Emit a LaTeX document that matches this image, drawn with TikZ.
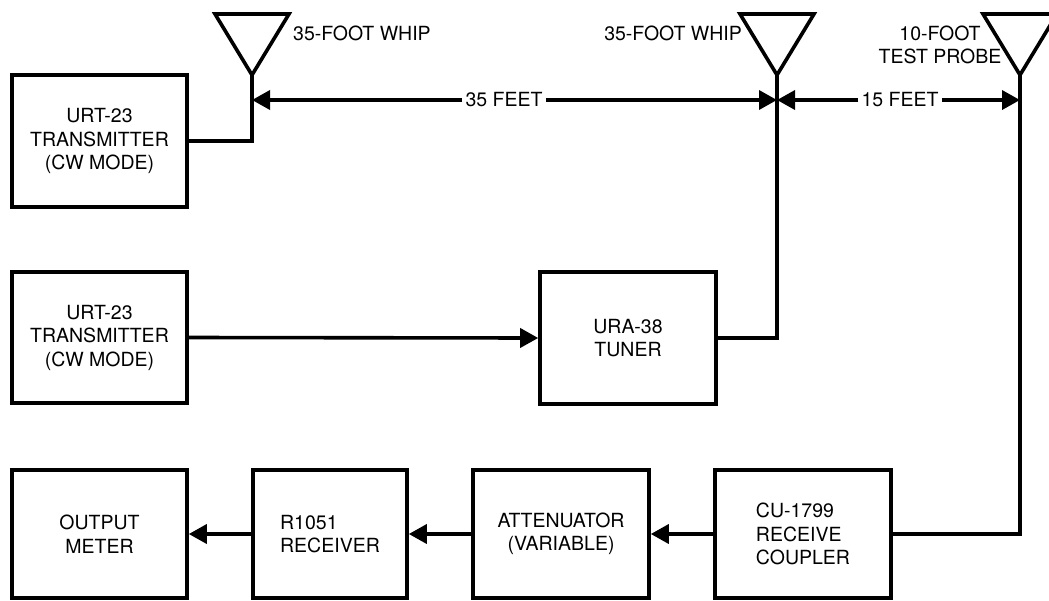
\documentclass[tikz,border=0pt]{standalone}
\usepackage{fontspec}
\setmainfont{TeX Gyre Heros}
\usetikzlibrary{arrows.meta}
\begin{document}
\begin{tikzpicture}[x=1pt,y=-1pt,
  every node/.style={font=\fontsize{19.5}{23.5}\selectfont},
  wire/.style={line width=3.6pt, line join=miter},
  arr/.style={wire,-{Triangle[length=18pt,width=19pt]}},
  blk/.style={draw, line width=3.6pt, minimum width=175pt, align=center, inner sep=0pt},
  lbl/.style={inner sep=2pt},
  dim/.style={fill=white, inner sep=3pt}
]
\clip (0,0) rectangle (1049,600);
\fill[white] (0,0) rectangle (1049,600);

% blocks
\node[blk, minimum height=132pt] (tx1) at (99.5,141) {URT-23\\TRANSMITTER\\(CW MODE)};
\node[blk, minimum height=131pt] (tx2) at (99.5,337.5) {URT-23\\TRANSMITTER\\(CW MODE)};
\node[blk, minimum width=176pt, minimum height=132pt] (ura) at (628,338) {URA-38\\TUNER};
\node[blk, minimum height=128pt] (out) at (99.5,534) {OUTPUT\\METER};
\node[blk, minimum width=154pt, minimum height=128pt, align=left] (rcv) at (330,534) {R1051\\RECEIVER};
\node[blk, minimum width=176pt, minimum height=128pt] (att) at (561,534) {ATTENUATOR\\(VARIABLE)};
\node[blk, minimum width=176pt, minimum height=128pt, align=left] (cu) at (803,534) {CU-1799\\RECEIVE\\COUPLER};

% antennas
\coordinate (a1) at (252,75);
\coordinate (a1l) at (215,14);
\coordinate (a1r) at (289,14);
\coordinate (a2) at (777,75);
\coordinate (a2l) at (740,14);
\coordinate (a2r) at (814,14);
\coordinate (a3) at (1020,75);
\coordinate (a3l) at (983,14);
\coordinate (a3r) at (1057,14);
\draw[wire] (a1) -- (a1l) -- (a1r) -- cycle;
\draw[wire] (a2) -- (a2l) -- (a2r) -- cycle;
\draw[wire] (a3) -- (a3l) -- (a3r) -- cycle;

\node[lbl, anchor=west] (w1) at (291,33) {35-FOOT WHIP};
\node[lbl, anchor=east] (w2) at (744,33) {35-FOOT WHIP};
\node[lbl, align=center] (tp) at (940,45) {10-FOOT\\TEST PROBE};

% feeds
\draw[wire] (a1) |- (tx1.east);
\draw[wire] (a2) |- (ura.east);
\draw[wire] (a3) |- (cu.east);

% signal path
\draw[arr] (tx2.east) -- (ura.west);
\draw[arr] (cu.west) -- (att.east);
\draw[arr] (att.west) -- (rcv.east);
\draw[arr] (rcv.west) -- (out.east);

% distances
\coordinate (j1) at (252,100);
\coordinate (j2) at (777,100);
\coordinate (j3) at (1020,100);
\node[dim] (f35) at (504,100) {35 FEET};
\node[dim] (f15) at (900,100) {15 FEET};
\draw[arr] (f35.west) -- (j1);
\draw[arr] (f35.east) -- (j2);
\draw[arr] (f15.west) -- (j2);
\draw[arr] (f15.east) -- (j3);
\end{tikzpicture}
\end{document}
